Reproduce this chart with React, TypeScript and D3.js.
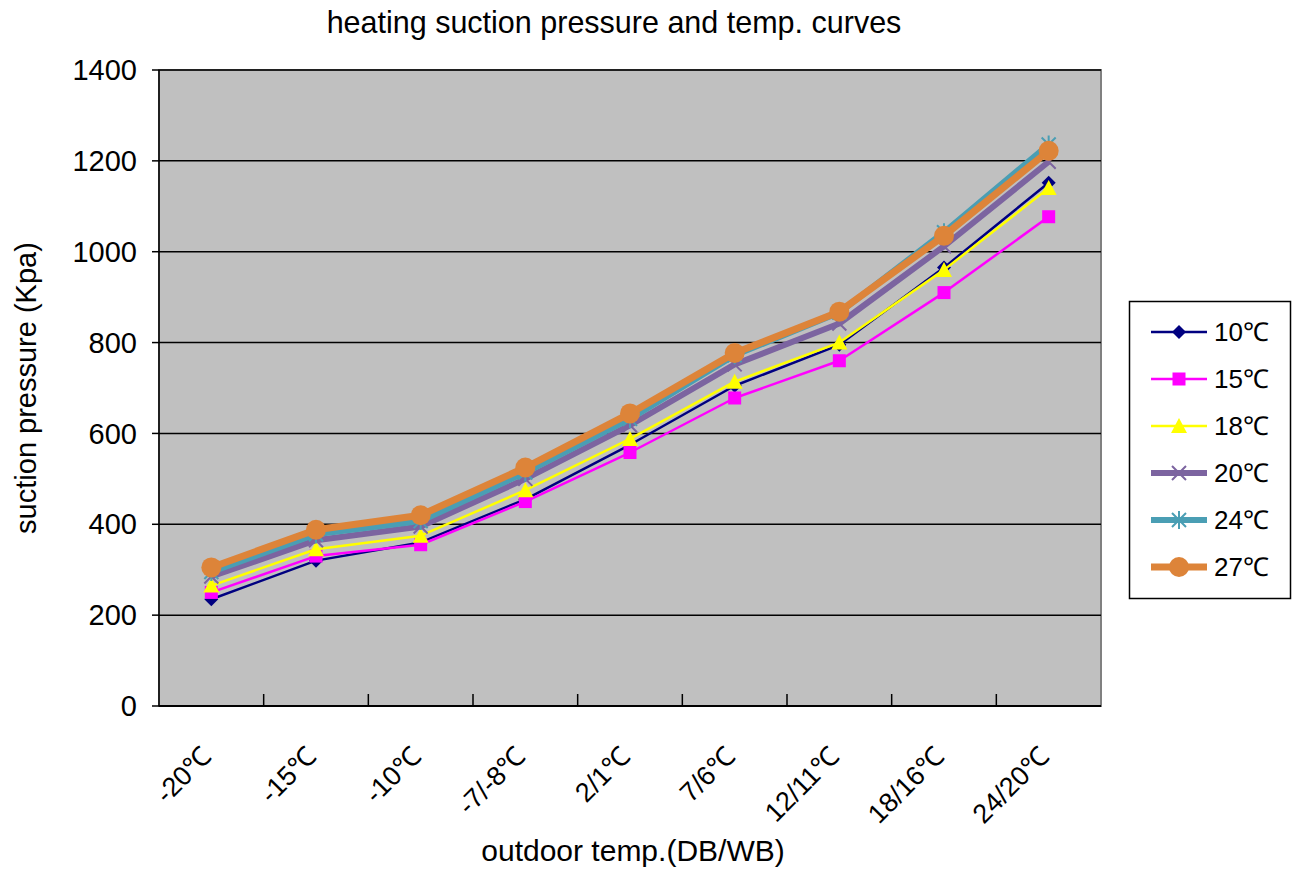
import * as d3 from "d3";
import React from "react";

const W = 1293;
const H = 873;

const categories = ["-20℃", "-15℃", "-10℃", "-7/-8℃", "2/1℃", "7/6℃", "12/11℃", "18/16℃", "24/20℃"];
const seriesNames = ["10℃", "15℃", "18℃", "20℃", "24℃", "27℃"];

const s10 = [235, 320, 360, 455, 575, 705, 795, 965, 1152];
const s15 = [250, 330, 355, 450, 558, 678, 760, 910, 1077];
const s18 = [265, 345, 375, 475, 588, 714, 800, 960, 1140];
const s20 = [285, 365, 395, 500, 618, 752, 842, 1012, 1198];
const s24 = [295, 378, 407, 514, 632, 772, 866, 1043, 1236];
const s27 = [305, 388, 420, 525, 644, 777, 868, 1035, 1222];
const yTicks = [0, 200, 400, 600, 800, 1000, 1200, 1400];

const seriesData = [s10, s15, s18, s20, s24, s27];

const styles = [
    { color: "#000080", width: 2.5, marker: "diamond" },
    { color: "#FF00FF", width: 2.5, marker: "square" },
    { color: "#FFFF00", width: 2.5, marker: "triangle" },
    { color: "#7C64A0", width: 6, marker: "x" },
    { color: "#4A9EB4", width: 6, marker: "star" },
    { color: "#DD8439", width: 7, marker: "circle" },
];

// plot area
const pL = 159;
const pR = 1101;
const pT = 70;
const pB = 706;

const FONT = "'Liberation Sans', Arial, sans-serif";

function Marker({ kind, color, x, y }: { kind: string; color: string; x: number; y: number }) {
    const t = `translate(${x},${y})`;
    if (kind === "diamond") return <path transform={t} d="M0,-7L7,0L0,7L-7,0Z" fill={color} />;
    if (kind === "square") return <rect transform={t} x={-6.5} y={-6.5} width={13} height={13} fill={color} />;
    if (kind === "triangle") return <path transform={t} d="M0,-8L8,7L-8,7Z" fill={color} />;
    if (kind === "x")
        return <path transform={t} d="M-7,-7L7,7M-7,7L7,-7" stroke={color} strokeWidth={2} fill="none" />;
    if (kind === "star")
        return <path transform={t} d="M-7,-7L7,7M-7,7L7,-7M0,-9L0,9" stroke={color} strokeWidth={2} fill="none" />;
    return <circle cx={x} cy={y} r={10} fill={color} />;
}

export default function App() {
    const x = d3.scaleBand<string>().domain(categories).range([pL, pR]).padding(0);
    const y = d3.scaleLinear().domain([0, 1400]).range([pB, pT]);
    const cx = (c: string) => (x(c) ?? 0) + x.bandwidth() / 2;

    const line = d3
        .line<number>()
        .x((_, i) => cx(categories[i]))
        .y((d) => y(d));

    const boundaries = d3.range(1, categories.length).map((i) => pL + i * x.bandwidth());

    const legY = d3.scaleLinear().domain([0, 5]).range([332, 567]);

    return (
        <svg width={W} height={H} style={{ position: "absolute", left: 0, top: 0, background: "#fff" }}>
            {/* plot background */}
            <rect x={pL} y={pT} width={pR - pL} height={pB - pT} fill="#C0C0C0" stroke="#808080" strokeWidth={2} />

            {/* gridlines */}
            {yTicks.slice(1).map((t) => (
                <line key={t} x1={pL} x2={pR} y1={y(t)} y2={y(t)} stroke="#000" strokeWidth={1.5} />
            ))}

            {/* axes */}
            <line x1={pL} x2={pL} y1={pT} y2={pB} stroke="#000" strokeWidth={1.5} />
            <line x1={pL} x2={pR} y1={pB} y2={pB} stroke="#000" strokeWidth={2} />
            {yTicks.map((t) => (
                <g key={t}>
                    <line x1={pL - 7} x2={pL} y1={y(t)} y2={y(t)} stroke="#000" strokeWidth={1.5} />
                    <text x={137} y={y(t)} dy="0.35em" textAnchor="end" fontFamily={FONT} fontSize={29}>
                        {t}
                    </text>
                </g>
            ))}
            {boundaries.map((b) => (
                <line key={b} x1={b} x2={b} y1={pB - 12} y2={pB} stroke="#000" strokeWidth={1.5} />
            ))}
            {categories.map((c) => (
                <text
                    key={c}
                    transform={`translate(${cx(c) + 2},${758}) rotate(-45)`}
                    textAnchor="end"
                    fontFamily={FONT}
                    fontSize={27}
                >
                    {c}
                </text>
            ))}

            {/* series */}
            {seriesData.map((d, si) => (
                <g key={si}>
                    <path d={line(d) ?? ""} fill="none" stroke={styles[si].color} strokeWidth={styles[si].width} strokeLinejoin="round" />
                    {d.map((v, i) => (
                        <Marker key={i} kind={styles[si].marker} color={styles[si].color} x={cx(categories[i])} y={y(v)} />
                    ))}
                </g>
            ))}

            {/* titles */}
            <text x={614} y={33} textAnchor="middle" fontFamily={FONT} fontSize={30.5}>
                heating suction pressure and temp. curves
            </text>
            <text x={633} y={861} textAnchor="middle" fontFamily={FONT} fontSize={30}>
                outdoor temp.(DB/WB)
            </text>
            <text transform="translate(36,388) rotate(-90)" textAnchor="middle" fontFamily={FONT} fontSize={29}>
                suction pressure (Kpa)
            </text>

            {/* legend */}
            <rect x={1129.5} y={301.5} width={161} height={297} fill="#fff" stroke="#000" strokeWidth={1.5} />
            {seriesNames.map((n, i) => (
                <g key={n}>
                    <line x1={1151} x2={1207} y1={legY(i)} y2={legY(i)} stroke={styles[i].color} strokeWidth={styles[i].width} />
                    <Marker kind={styles[i].marker} color={styles[i].color} x={1179} y={legY(i)} />
                    <text x={1214} y={legY(i)} dy="0.35em" fontFamily={FONT} fontSize={26}>
                        {n}
                    </text>
                </g>
            ))}
        </svg>
    );
}
